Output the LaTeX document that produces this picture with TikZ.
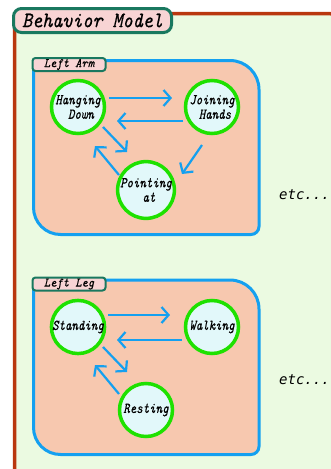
\documentclass[tikz,border=0pt]{standalone}
\usepackage{fontspec}
\usetikzlibrary{arrows.meta,calc}

% Slanted typewriter faces, narrowed to the widths used in the boxes
\newfontfamily\titlefont[FakeStretch=0.87,FakeBold=0.6]{lmmono10-italic.otf}
\newfontfamily\tagfont[FakeStretch=0.92,FakeBold=0.5]{lmmono10-italic.otf}
\newfontfamily\statefont[FakeStretch=0.82,FakeBold=0.5]{lmmono10-italic.otf}
\newfontfamily\etcfont{DejaVu Sans Mono}

\definecolor{frameline}{RGB}{185,55,15}
\definecolor{framefill}{RGB}{235,250,225}
\definecolor{tagline}{RGB}{25,120,95}
\definecolor{tagfill}{RGB}{248,212,212}
\definecolor{groupline}{RGB}{20,160,240}
\definecolor{groupfill}{RGB}{247,200,175}
\definecolor{stateline}{RGB}{30,225,0}
\definecolor{statefill}{RGB}{226,248,250}
\definecolor{arrowblue}{RGB}{20,160,240}

\tikzset{
  outerframe/.style={draw=frameline, fill=framefill, line width=3.5pt, rounded corners=15pt},
  titlebox/.style={draw=tagline, fill=tagfill, line width=3pt, rounded corners=8pt,
    minimum width=158pt, minimum height=24pt, inner sep=0pt,
    font=\titlefont\fontsize{22}{22}\selectfont},
  groupframe/.style={draw=groupline, fill=groupfill, line width=3pt},
  tagbox/.style={draw=tagline, fill=tagfill, line width=2pt, rounded corners=3pt,
    minimum width=73pt, minimum height=13pt, inner sep=0pt,
    font=\tagfont\fontsize{13}{13}\selectfont},
  state/.style={circle, draw=stateline, fill=statefill, line width=3.5pt,
    minimum size=53pt, inner sep=0pt, align=center,
    font=\statefont\fontsize{15}{14.5}\selectfont},
  trans/.style={draw=arrowblue, line width=2.2pt,
    -{Straight Barb[length=7pt,width=16pt]}},
  etctext/.style={anchor=base west, inner sep=0pt,
    font=\etcfont\itshape\fontsize{14}{14}\selectfont},
}

% Rounded group panel with unequal corner radii; #1 = top edge, #2 = bottom edge
\newcommand{\grouppanel}[2]{%
  \draw[groupframe] (33.5,#1+6) arc[start angle=180,end angle=270,radius=6]
    -- (230,#1) arc[start angle=270,end angle=360,radius=29]
    -- (259,#2-8) arc[start angle=0,end angle=90,radius=8]
    -- (60.5,#2) arc[start angle=90,end angle=180,radius=27]
    -- cycle;}

\begin{document}
\begin{tikzpicture}[x=1pt,y=-1pt]
\useasboundingbox (0,0) rectangle (331,469);
\clip (0,0) rectangle (331,469);

% outer model frame
\draw[outerframe] (14.5,13.5) rectangle (343,482);

% ---- Left Arm ----
\grouppanel{60.5}{234.5}
\node[tagbox] (armtag) at (69,64.5) {Left Arm};

\node[state] (hd) at (78,107) {Hanging\\\hspace*{6pt}Down};
\node[state] (jh) at (212,107) {Joining\\\hspace*{6pt}Hands};
\node[state] (pa) at (146,190) {Pointing\\\hspace*{6pt}at};

\draw[trans] ($(hd)+(31,-9)$) -- ($(jh)+(-40,-9)$);
\draw[trans] ($(jh)+(-29,14)$) -- ($(hd)+(39,14)$);
\draw[trans] ($(hd)+(25,20)$) -- ($(pa)+(-19,-38)$);
\draw[trans] ($(pa)+(-27,-15)$) -- ($(hd)+(17,39)$);
\draw[trans] ($(jh)+(-10,38)$) -- ($(pa)+(36,-16)$);

\node[etctext] (armetc) at (279,199) {etc...};

% ---- Left Leg ----
\grouppanel{280}{454.5}
\node[tagbox] (legtag) at (69,284) {Left Leg};

\node[state] (st) at (78,327) {Standing};
\node[state] (wk) at (212,327) {Walking};
\node[state] (rs) at (146,410) {Resting};

\draw[trans] ($(st)+(30,-12)$) -- ($(wk)+(-42,-12)$);
\draw[trans] ($(wk)+(-30,13)$) -- ($(st)+(39,13)$);
\draw[trans] ($(st)+(25,20)$) -- ($(rs)+(-19,-38)$);
\draw[trans] ($(rs)+(-27,-16)$) -- ($(st)+(17,38)$);

\node[etctext] (legetc) at (279,384) {etc...};

% model title
\node[titlebox] (title) at (92.5,20.5) {Behavior Model};
\end{tikzpicture}
\end{document}
